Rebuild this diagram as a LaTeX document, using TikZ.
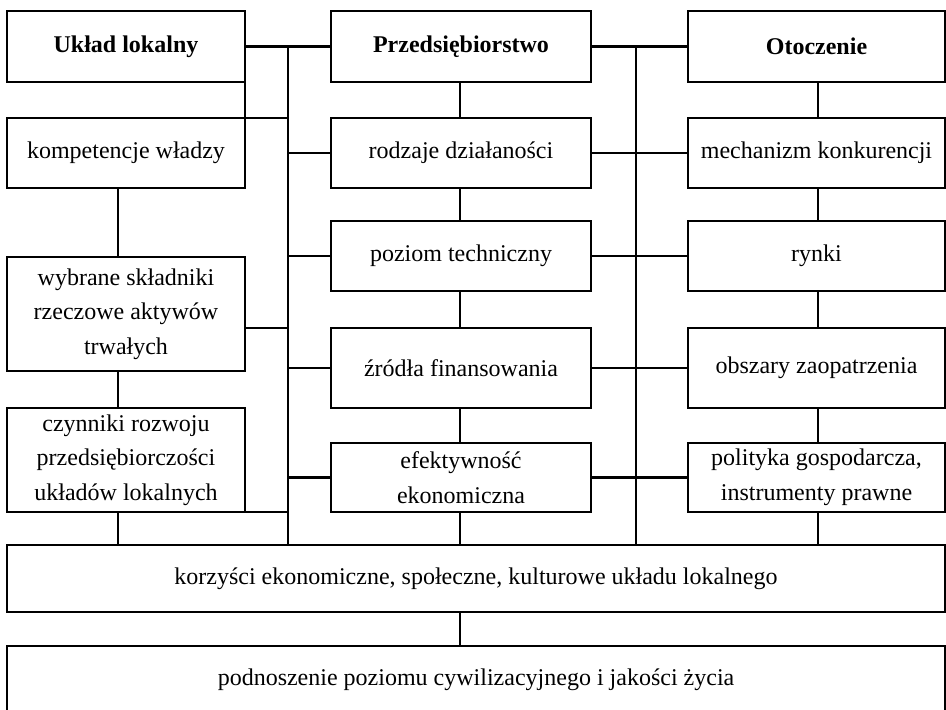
\documentclass[tikz,border=0pt]{standalone}
\usepackage{fontspec}
\setmainfont{Liberation Serif}
\begin{document}
\begin{tikzpicture}[x=1pt,y=-1pt,
  box/.style={draw, line width=2.8pt, inner sep=0pt, outer sep=0pt, align=center,
    font=\fontsize{24}{34.5}\selectfont},
  lcol/.style={box, minimum width=238pt},
  mcol/.style={box, minimum width=260pt},
  rcol/.style={box, minimum width=257pt},
  bcol/.style={box, minimum width=938pt},
  title/.style={font=\fontsize{24}{34.5}\selectfont\bfseries},
  conn/.style={line width=2.8pt}]
\useasboundingbox (0,0) rectangle (946,710);
\clip (0,0) rectangle (946,710);
% left column
\node[lcol, minimum height=71pt, title] (L1) at (126,46.5) {Układ lokalny};
\node[lcol, minimum height=70pt] (L2) at (126,153) {kompetencje władzy};
\node[lcol, minimum height=114pt] (L3) at (126,314) {wybrane składniki\\rzeczowe aktywów\\trwałych};
\node[lcol, minimum height=104pt] (L4) at (126,460) {czynniki rozwoju\\przedsiębiorczości\\układów lokalnych};
% middle column
\node[mcol, minimum height=71pt, title] (M1) at (461,46.5) {Przedsiębiorstwo};
\node[mcol, minimum height=70pt] (M2) at (461,153) {rodzaje działaności};
\node[mcol, minimum height=70pt] (M3) at (461,256) {poziom techniczny};
\node[mcol, minimum height=80pt] (M4) at (461,368) {źródła finansowania};
\node[mcol, minimum height=69pt] (M5) at (461,477.5) {efektywność\\ekonomiczna};
% right column
\node[rcol, minimum height=71pt, title] (R1) at (816.5,46.5) {Otoczenie};
\node[rcol, minimum height=70pt] (R2) at (816.5,153) {mechanizm konkurencji};
\node[rcol, minimum height=70pt] (R3) at (816.5,256) {rynki};
\node[rcol, minimum height=80pt] (R4) at (816.5,368) {obszary zaopatrzenia};
\node[rcol, minimum height=69pt] (R5) at (816.5,477.5) {polityka gospodarcza,\\instrumenty prawne};
% bottom
\node[bcol, minimum height=67pt] (B1) at (476,578.5) {korzyści ekonomiczne, społeczne, kulturowe układu lokalnego};
\node[bcol, minimum height=68pt] (B2) at (476,680) {podnoszenie poziomu cywilizacyjnego i jakości życia};
% guide coordinates
\coordinate (bl) at (288,0);
\coordinate (br) at (636,0);
\coordinate (xl) at (118,0);
\coordinate (xm) at (460,0);
\coordinate (xr) at (818,0);
% buses
\draw[conn] (L1.east) -- (M1.west);
\draw[conn] (M1.east) -- (R1.west);
\draw[conn] (bl |- L1.east) -- (bl |- B1.north);
\draw[conn] (br |- M1.east) -- (br |- B1.north);
% left bus branches
\draw[conn] (L1.south east) -- (L2.north east) -- (L2.north east -| bl);
\draw[conn] (M2.west -| bl) -- (M2.west);
\draw[conn] (M3.west -| bl) -- (M3.west);
\draw[conn] (L3.east |- M4.north) -- (M4.north -| bl);
\draw[conn] (M4.west -| bl) -- (M4.west);
\draw[conn] (M5.west -| bl) -- (M5.west);
\draw[conn] (L4.south east) -- (L4.south east -| bl);
% right bus branches
\draw[conn] (M2.east) -- (R2.west);
\draw[conn] (M3.east) -- (R3.west);
\draw[conn] (M4.east) -- (R4.west);
\draw[conn] (M5.east) -- (R5.west);
% left column verticals
\draw[conn] (L2.south -| xl) -- (L3.north -| xl);
\draw[conn] (L3.south -| xl) -- (L4.north -| xl);
\draw[conn] (L4.south -| xl) -- (B1.north -| xl);
% middle column verticals
\draw[conn] (M1.south -| xm) -- (M2.north -| xm);
\draw[conn] (M2.south -| xm) -- (M3.north -| xm);
\draw[conn] (M3.south -| xm) -- (M4.north -| xm);
\draw[conn] (M4.south -| xm) -- (M5.north -| xm);
\draw[conn] (M5.south -| xm) -- (B1.north -| xm);
% right column verticals
\draw[conn] (R1.south -| xr) -- (R2.north -| xr);
\draw[conn] (R2.south -| xr) -- (R3.north -| xr);
\draw[conn] (R3.south -| xr) -- (R4.north -| xr);
\draw[conn] (R4.south -| xr) -- (R5.north -| xr);
\draw[conn] (R5.south -| xr) -- (B1.north -| xr);
% bottom link
\draw[conn] (B1.south -| xm) -- (B2.north -| xm);
\end{tikzpicture}
\end{document}
